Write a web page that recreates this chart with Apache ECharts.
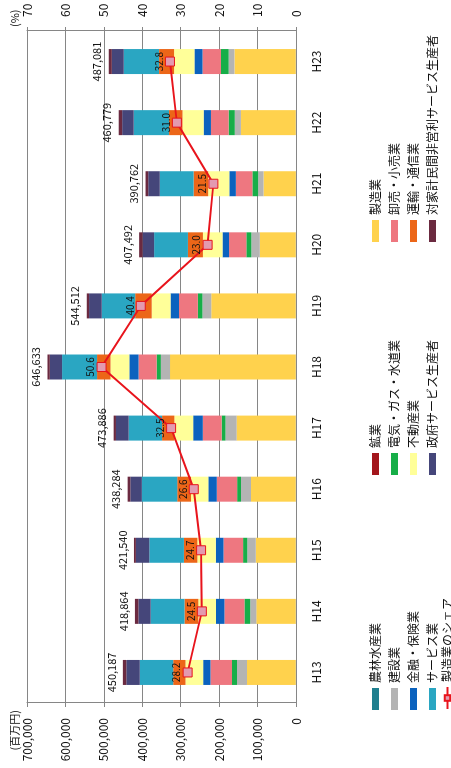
<!DOCTYPE html>
<html><head><meta charset="utf-8">
<script src="https://cdn.jsdelivr.net/npm/echarts@6/dist/echarts.min.js"></script>
<style>
html,body{margin:0;padding:0;width:451px;height:768px;overflow:hidden;background:#fff;}
#wrap{position:absolute;left:0;top:0;width:768px;height:451px;transform-origin:0 0;transform:translateY(768px) rotate(-90deg);}
</style></head>
<body><div id="wrap"></div>
<script>
const categories = ['H13','H14','H15','H16','H17','H18','H19','H20','H21','H22','H23'];
const totals = [450187,418864,421540,438284,473886,646633,544512,407492,390762,460779,487081];
const shareMfg = [28.2,24.5,24.7,26.6,32.5,50.6,40.4,23.0,21.5,31.0,32.8];
const agriculture = [500,450,450,450,400,400,400,400,400,400,400];
const mining = [100,100,100,100,100,100,100,100,100,100,100];
const manufacturing = [126950,102620,104120,116580,154010,327200,219980,93720,84010,142840,159760];
const construction = [26000,16000,22000,26000,29000,24000,23000,22000,14000,16000,15000];
const utilities = [13000,15000,11000,10000,10000,11000,12000,13000,15000,16000,20000];
const trade = [56000,52000,51000,53000,49000,47000,49000,45000,43000,46000,48000];
const finance = [19000,22000,20000,22000,25000,24000,22000,17000,17000,19000,21000];
const realEstate = [46000,46000,48000,45000,49000,49000,49000,51000,55000,55000,53000];
const transport = [32000,36000,35000,36000,32000,35000,43000,39000,38000,35000,39000];
const services = [87000,88000,90000,92000,87000,91000,87000,88000,88000,92000,92000];
const government = [35000,32000,35000,30000,33000,32000,33000,30000,30000,30000,31000];
const nonprofit = [9000,9000,5000,7000,6000,6000,6000,9000,7000,9000,8000];
const leftTicks = ['0','100,000','200,000','300,000','400,000','500,000','600,000','700,000'];

const FONT = '"Noto Sans CJK JP","Noto Sans",sans-serif';
const barDefs = [
  ['農林水産業', agriculture, '#1F7F8F'],
  ['鉱業', mining, '#A3161C'],
  ['製造業', manufacturing, '#FFD24D'],
  ['建設業', construction, '#B4B4B4'],
  ['電気・ガス・水道業', utilities, '#17AE48'],
  ['卸売・小売業', trade, '#EE7780'],
  ['金融・保険業', finance, '#0B62BE'],
  ['不動産業', realEstate, '#FFFF99'],
  ['運輸・通信業', transport, '#EC6618'],
  ['サービス業', services, '#2AA6C2'],
  ['政府サービス生産者', government, '#45467A'],
  ['対家計民間非営利サービス生産者', nonprofit, '#6B2A40']
];
const series = barDefs.map((d, i) => {
  const s = {name: d[0], type: 'bar', stack: 'total', data: d[1], barWidth: 25,
    itemStyle: {color: d[2]}, emphasis: {disabled: true}};
  if (i === barDefs.length - 1) {
    s.label = {show: true, position: 'top', distance: 6, fontFamily: FONT, fontSize: 11, color: '#111',
      formatter: p => totals[p.dataIndex].toLocaleString('en-US')};
  }
  return s;
});
series.push({name: '製造業のシェア', type: 'line', yAxisIndex: 1, data: shareMfg,
  lineStyle: {color: '#E8141C', width: 2}, itemStyle: {color: '#E39AB0', borderColor: '#E8141C', borderWidth: 1},
  symbol: 'rect', symbolSize: 9, z: 5,
  label: {show: true, position: 'top', distance: 1, fontFamily: FONT, fontSize: 10, color: '#111',
    formatter: p => p.value.toFixed(1)}});

const R = n => ({name: n, icon: 'rect'});
const legendBase = {orient: 'vertical', itemWidth: 22, itemHeight: 7, itemGap: 6,
  textStyle: {fontFamily: FONT, fontSize: 12, color: '#111', lineHeight: 13}, selectedMode: false, top: 364};
const chart = echarts.init(document.getElementById('wrap'), null, {renderer: 'canvas'});
chart.setOption({
  animation: false,
  textStyle: {fontFamily: FONT},
  grid: {left: 65, right: 31, top: 27, bottom: 155},
  legend: [
    Object.assign({}, legendBase, {left: 53, data: [R('農林水産業'),R('建設業'),R('金融・保険業'),R('サービス業')]}),
    Object.assign({}, legendBase, {left: 53, top: 436, data: [{name:'製造業のシェア'}]}),
    Object.assign({}, legendBase, {left: 288, data: [R('鉱業'),R('電気・ガス・水道業'),R('不動産業'),R('政府サービス生産者')]}),
    Object.assign({}, legendBase, {left: 521, data: [R('製造業'),R('卸売・小売業'),R('運輸・通信業'),R('対家計民間非営利サービス生産者')]})
  ],
  xAxis: {type: 'category', data: categories,
    axisLine: {lineStyle: {color: '#868686'}}, axisTick: {length: 4, lineStyle: {color: '#868686'}},
    axisLabel: {fontSize: 12, color: '#111', margin: 14, fontFamily: FONT}},
  yAxis: [
    {type: 'value', min: 0, max: 700000, interval: 100000, position: 'left',
      name: '(百万円)', nameLocation: 'end', nameGap: 7,
      nameTextStyle: {fontSize: 11, color: '#111', align: 'right', padding: [0, 7, 0, 0], fontFamily: FONT},
      axisLine: {show: true, lineStyle: {color: '#868686'}}, axisTick: {show: true, length: 4, lineStyle: {color: '#868686'}},
      splitLine: {show: true, lineStyle: {color: '#868686', width: 1}},
      axisLabel: {fontSize: 12, color: '#111', margin: 15, fontFamily: FONT,
        formatter: v => leftTicks[Math.round(v / 100000)]}},
    {type: 'value', min: 0, max: 70, interval: 10, position: 'right',
      name: '(%)', nameLocation: 'end', nameGap: 7,
      nameTextStyle: {fontSize: 11, color: '#111', align: 'left', padding: [0, 0, 0, 4], fontFamily: FONT},
      axisLine: {show: true, lineStyle: {color: '#868686'}}, axisTick: {show: true, length: 4, lineStyle: {color: '#868686'}},
      splitLine: {show: false},
      axisLabel: {fontSize: 12, color: '#111', margin: 14, fontFamily: FONT}}
  ],
  series: series
});
</script></body></html>
